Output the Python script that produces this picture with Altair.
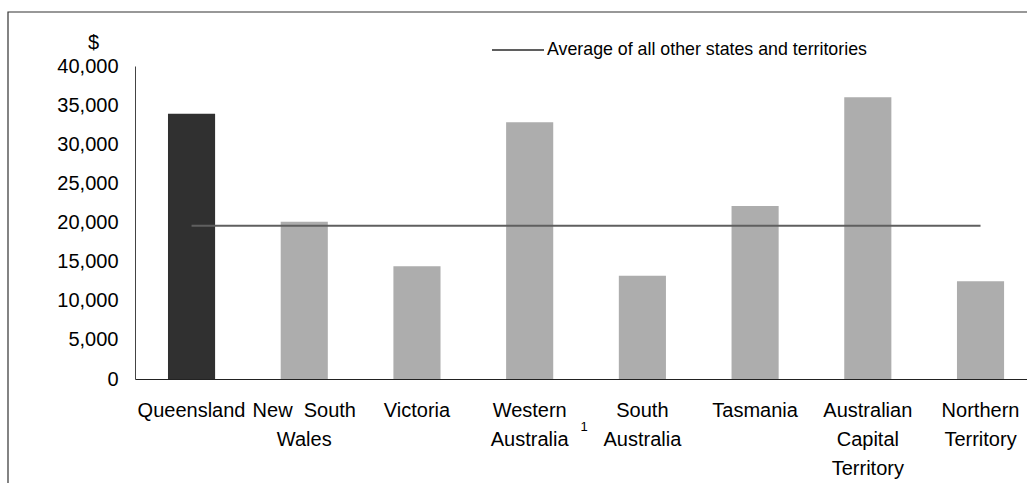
import json
import altair as alt
import pandas as pd

states = ["Queensland", "New South Wales", "Victoria", "Western Australia",
          "South Australia", "Tasmania", "Australian Capital Territory",
          "Northern Territory"]
values = [33900, 20100, 14400, 32800, 13200, 22100, 36000, 12500]
label_lines = [["Queensland"], ["New\u00a0 South", "Wales"], ["Victoria"],
               ["Western", "Australia"], ["South", "Australia"], ["Tasmania"],
               ["Australian", "Capital", "Territory"], ["Northern", "Territory"]]
avg_label = "Average of all other states and territories"
avg_value = 19600
highlight = "Queensland"
y_ticks = [0, 5000, 10000, 15000, 20000, 25000, 30000, 35000, 40000]
footnote_state = "Western Australia"
footnote_text = "1"

FONT = "Liberation Sans"

bars_df = pd.DataFrame({"state": states, "value": values})
avg_df = pd.DataFrame({"series": [avg_label], "avg": [avg_value],
                       "start": [states[0]], "end": [states[-1]]})
note_df = pd.DataFrame({"state": [footnote_state], "note": [footnote_text]})

label_map = json.dumps(dict(zip(states, label_lines)))
x_scale = alt.Scale(domain=states, paddingInner=0.582, paddingOuter=0.248, align=0.59)
y_scale = alt.Scale(domain=[0, 40000], nice=False)

x_axis = alt.Axis(title=None, labelAngle=0, labelFontSize=20, labelLineHeight=29,
                  labelPadding=21, ticks=False, domainColor="#222222", domainWidth=1,
                  labelColor="#000000", labelLimit=300, labelFont=FONT,
                  labelExpr=f"{label_map}[datum.value]")
y_axis = alt.Axis(title="$", titleAngle=0, titleX=-42, titleY=-24, titleAlign="center",
                  titleBaseline="middle", titleFontSize=20, titleFontWeight="normal",
                  titleFont=FONT, titleColor="#000000",
                  values=y_ticks, format=",.0f", labelOverlap=False,
                  labelFontSize=20, labelPadding=17, labelSeparation=0,
                  labelFont=FONT, labelColor="#000000", ticks=False, grid=False,
                  domainColor="#444444", domainWidth=1)

border = alt.Chart(pd.DataFrame({"a": [0]})).mark_rect(
    fillOpacity=0, stroke="#333333", strokeWidth=1.2
).encode(x=alt.value(-127), x2=alt.value(912), y=alt.value(-54), y2=alt.value(437))

bars = alt.Chart(bars_df).mark_bar().encode(
    x=alt.X("state:N", scale=x_scale, sort=states, axis=x_axis),
    y=alt.Y("value:Q", scale=y_scale, axis=y_axis),
    color=alt.condition(alt.datum.state == highlight, alt.value("#303030"), alt.value("#adadad")),
)

avg_rule = alt.Chart(avg_df).mark_rule(strokeWidth=2).encode(
    x=alt.X("start:N", scale=x_scale, sort=states, axis=x_axis),
    x2="end:N",
    y=alt.Y("avg:Q", scale=y_scale, axis=y_axis),
    stroke=alt.Stroke("series:N", scale=alt.Scale(domain=[avg_label], range=["#5f5f5f"]),
                      legend=alt.Legend(title=None, orient="none", legendX=356, legendY=-43,
                                        symbolType="stroke", symbolSize=2704,
                                        symbolStrokeWidth=2, labelFontSize=17.8,
                                        labelFont=FONT, labelColor="#000000",
                                        labelOffset=2, padding=0, labelLimit=500)),
)

note = alt.Chart(note_df).mark_text(fontSize=13, font=FONT, color="#000000",
                                    baseline="middle", dx=54.5).encode(
    x=alt.X("state:N", scale=x_scale, sort=states, axis=x_axis),
    y=alt.value(361),
    text="note:N",
)

chart = alt.layer(border, bars, avg_rule, note).properties(
    width=892, height=313,
    background="#ffffff",
    autosize=alt.AutoSizeParams(type="none"),
    padding={"left": 135, "top": 66, "right": 0, "bottom": 104},
).configure_view(stroke=None).configure_axis(labelOverlap=False)

chart.save("out.html", embed_options={"renderer": "svg", "actions": False})
